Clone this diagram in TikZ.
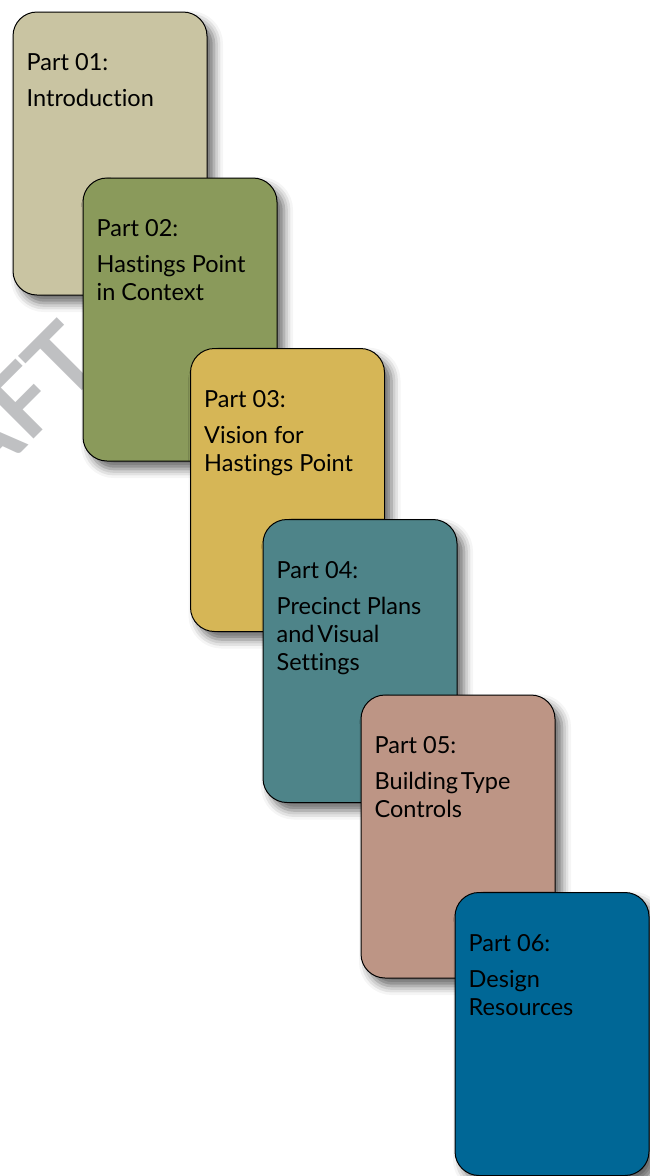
\documentclass[tikz,border=0pt]{standalone}
\usepackage{fontspec}
\setmainfont{Lato}[Ligatures={NoCommon}]
\usetikzlibrary{shadows.blur}
\definecolor{wmgray}{HTML}{BFC0C2}
\definecolor{partone}{HTML}{C9C4A2}
\definecolor{parttwo}{HTML}{8A9A5B}
\definecolor{partthree}{HTML}{D6B656}
\definecolor{partfour}{HTML}{4E8489}
\definecolor{partfive}{HTML}{BD9585}
\definecolor{partsix}{HTML}{006796}
\begin{document}
\begin{tikzpicture}[x=1pt,y=-1pt,
  card/.style={draw=black, line width=1pt, rounded corners=24pt,
    minimum width=194pt, minimum height=283pt, inner sep=0pt,
    blur shadow={shadow xshift=7pt, shadow yshift=-8pt,
      shadow blur radius=9pt, shadow opacity=60}},
  line/.style={anchor=base west, inner sep=0pt, text=black,
    font=\fontsize{23.5}{28}\selectfont},
]
\useasboundingbox (0,0) rectangle (650,1176);
% watermark behind the stack
\node[rotate=45, text=wmgray, inner sep=0pt,
  font=\fontsize{96}{96}\selectfont\bfseries] (wm) at (-28,452) {DRAFT};
% cards, back to front; text baselines at 59, 95, 123, 151 below the top edge
\node[card, fill=partone] (c1) at (110,153.5) {};
\node[line] (h1) at ([xshift=14pt,yshift=-59pt]c1.north west) {Part 01:};
\node[line] (a1) at ([xshift=14pt,yshift=-95pt]c1.north west) {Introduction};

\node[card, fill=parttwo] (c2) at (180,319.5) {};
\node[line] (h2) at ([xshift=14pt,yshift=-59pt]c2.north west) {Part 02:};
\node[line] (a2) at ([xshift=14pt,yshift=-95pt]c2.north west) {Hastings Point};
\node[line] (b2) at ([xshift=14pt,yshift=-123pt]c2.north west) {in Context};

\node[card, fill=partthree] (c3) at (287.5,490) {};
\node[line] (h3) at ([xshift=14pt,yshift=-59pt]c3.north west) {Part 03:};
\node[line] (a3) at ([xshift=14pt,yshift=-95pt]c3.north west) {Vision for};
\node[line] (b3) at ([xshift=14pt,yshift=-123pt]c3.north west) {Hastings Point};

\node[card, fill=partfour] (c4) at (360,661) {};
\node[line] (h4) at ([xshift=14pt,yshift=-59pt]c4.north west) {Part 04:};
\node[line] (a4) at ([xshift=14pt,yshift=-95pt]c4.north west) {Precinct Plans};
\node[line] (b4) at ([xshift=14pt,yshift=-123pt]c4.north west) {and\kern0.12em Visual};
\node[line] (d4) at ([xshift=14pt,yshift=-151pt]c4.north west) {Settings};

\node[card, fill=partfive] (c5) at (458,836.5) {};
\node[line] (h5) at ([xshift=14pt,yshift=-59pt]c5.north west) {Part 05:};
\node[line] (a5) at ([xshift=14pt,yshift=-95pt]c5.north west) {Building\kern0.12em Type};
\node[line] (b5) at ([xshift=14pt,yshift=-123pt]c5.north west) {Controls};

\node[card, fill=partsix] (c6) at (552,1034) {};
\node[line] (h6) at ([xshift=14pt,yshift=-59pt]c6.north west) {Part 06:};
\node[line] (a6) at ([xshift=14pt,yshift=-95pt]c6.north west) {Design};
\node[line] (b6) at ([xshift=14pt,yshift=-123pt]c6.north west) {Resources};
\end{tikzpicture}
\end{document}
